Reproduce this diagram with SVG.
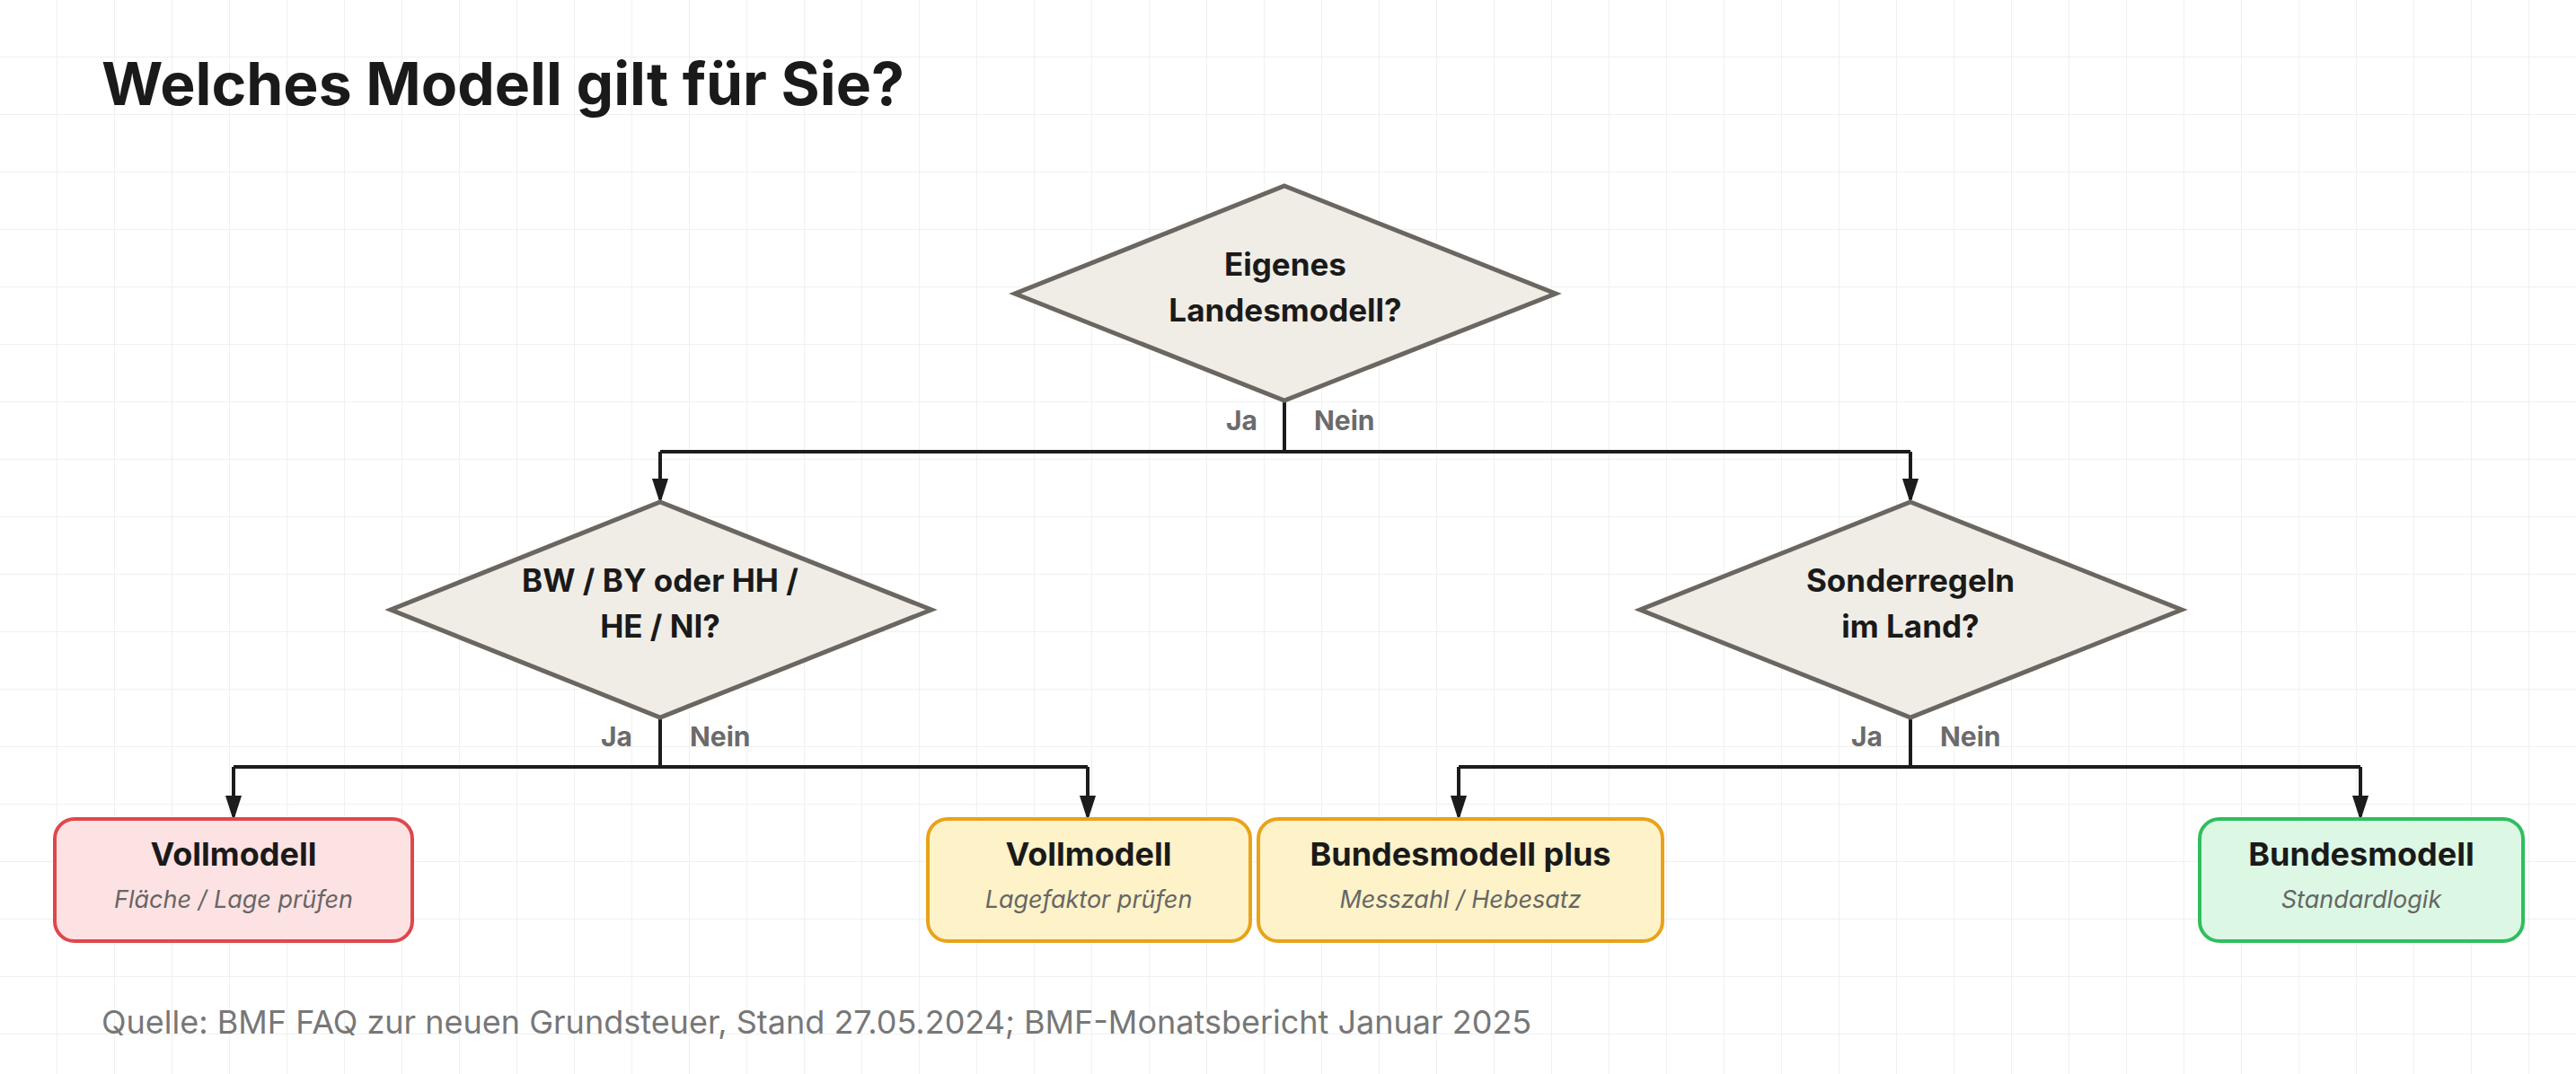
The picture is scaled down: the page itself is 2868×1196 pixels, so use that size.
<svg xmlns="http://www.w3.org/2000/svg" width="2868" height="1196" viewBox="0 0 2868 1196">
<defs>
<pattern id="grid" width="64" height="64" patternUnits="userSpaceOnUse"><path d="M64 0V64M0 64H64" fill="none" stroke="#f0f0f0" stroke-width="2"/></pattern>
<marker id="ah" markerWidth="10" markerHeight="12" refX="10" refY="6" orient="auto" markerUnits="userSpaceOnUse" viewBox="0 0 10 12"><path d="M0 0L10 6L0 12z" fill="#1c1c1c"/></marker>
<style>
text{font-family:Inter,"Liberation Sans",sans-serif}
.dia{fill:#f0ede6;stroke:#6b6660;stroke-width:5}
.dt{font-size:35px;font-weight:700;fill:#1a1a1a;text-anchor:middle}
.bt{font-size:36px;font-weight:700;fill:#1a1a1a;text-anchor:middle}
.st{font-size:27px;font-style:italic;fill:#666;text-anchor:middle}
.lb{font-size:30px;font-weight:700;fill:#6b6b6b}
.c{fill:none;stroke:#1c1c1c;stroke-width:4}
.ar{stroke:#1c1c1c;stroke-width:4;marker-end:url(#ah)}
</style>
<marker id="a2" markerWidth="28" markerHeight="34" refX="28" refY="11" orient="auto" markerUnits="userSpaceOnUse" viewBox="0 0 34 22"><path d="M0 0L34 11L0 22z" fill="#1c1c1c"/></marker>
</defs>
<rect width="2868" height="1196" fill="#fff"/>
<rect width="2868" height="1196" fill="url(#grid)"/>
<text x="113" y="117" font-size="66" font-weight="700" fill="#1a1a1a">Welches Modell gilt für Sie?</text>
<g id="connectors">
<path class="c" d="M1430 446V503M735 503H2127M735 503V530M2127 503V530"/>
<path class="c" d="M735 503V556" marker-end="url(#a2)"/>
<path class="c" d="M2127 503V556" marker-end="url(#a2)"/>
<path class="c" d="M735 799V854H260M735 854H1211M2127 799V854H1624M2127 854H2628"/>
<path class="c" d="M260 854V909" marker-end="url(#a2)"/>
<path class="c" d="M1211 854V909" marker-end="url(#a2)"/>
<path class="c" d="M1624 854V909" marker-end="url(#a2)"/>
<path class="c" d="M2628 854V909" marker-end="url(#a2)"/>
<text class="lb" x="1400" y="479" text-anchor="end">Ja</text>
<text class="lb" x="1463" y="479">Nein</text>
<text class="lb" x="704" y="831" text-anchor="end">Ja</text>
<text class="lb" x="768" y="831">Nein</text>
<text class="lb" x="2096" y="831" text-anchor="end">Ja</text>
<text class="lb" x="2160" y="831">Nein</text>
</g>
<g id="q1"><polygon class="dia" points="1430,207 1732,327 1430,446 1130,327"/><text class="dt" x="1431" y="307">Eigenes</text><text class="dt" x="1431" y="358">Landesmodell?</text></g>
<g id="q2"><polygon class="dia" points="735,559 1037,679 735,799 435,679"/><text class="dt" x="735" y="659">BW / BY oder HH /</text><text class="dt" x="735" y="710">HE / NI?</text></g>
<g id="q3"><polygon class="dia" points="2127,559 2429,679 2127,799 1826,679"/><text class="dt" x="2127" y="659">Sonderregeln</text><text class="dt" x="2127" y="710">im Land?</text></g>
<g id="n1"><rect x="61" y="912" width="398" height="136" rx="22" fill="#fde2e3" stroke="#e0474c" stroke-width="4"/><text class="bt" x="260" y="964">Vollmodell</text><text class="st" x="260" y="1011">Fläche / Lage prüfen</text></g>
<g id="n2"><rect x="1033" y="912" width="359" height="136" rx="22" fill="#fdf2c8" stroke="#e8a31a" stroke-width="4"/><text class="bt" x="1212" y="964">Vollmodell</text><text class="st" x="1212" y="1011">Lagefaktor prüfen</text></g>
<g id="n3"><rect x="1401" y="912" width="450" height="136" rx="22" fill="#fdf2c8" stroke="#e8a31a" stroke-width="4"/><text class="bt" x="1626" y="964">Bundesmodell plus</text><text class="st" x="1626" y="1011">Messzahl / Hebesatz</text></g>
<g id="n4"><rect x="2449" y="912" width="360" height="136" rx="22" fill="#dcf8e4" stroke="#2fbe5e" stroke-width="4"/><text class="bt" x="2629" y="964">Bundesmodell</text><text class="st" x="2629" y="1011">Standardlogik</text></g>
<text x="113" y="1151" font-size="36" fill="#777">Quelle: BMF FAQ zur neuen Grundsteuer, Stand 27.05.2024; BMF-Monatsbericht Januar 2025</text>
</svg>
